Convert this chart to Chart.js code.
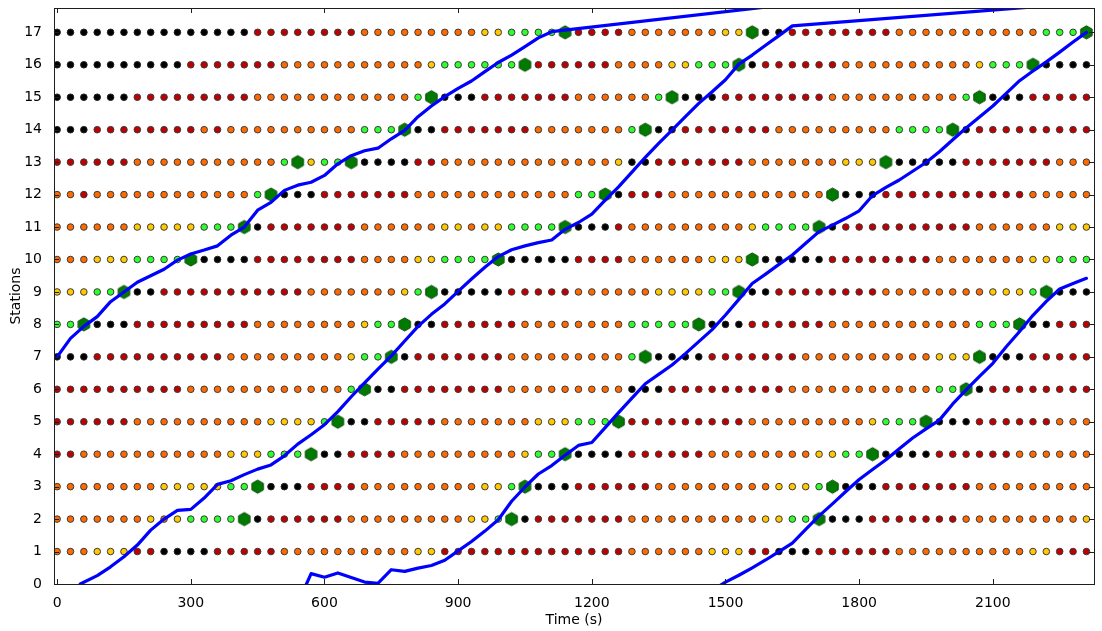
<!DOCTYPE html>
<html>
<head>
<meta charset="utf-8">
<script src="https://cdn.jsdelivr.net/npm/chart.js@4.4.1/dist/chart.umd.min.js"></script>
<style>
html,body{margin:0;padding:0;background:#ffffff;}
#wrap{width:1102px;height:631px;position:relative;}
canvas{display:block;}
</style>
</head>
<body>
<div id="wrap"><canvas id="c" width="1102" height="631"></canvas></div>
<script>
// ---------------- data ----------------
const sampleTimes = [0,30,60,90,120,150,180,210,240,270,300,330,360,390,420,450,480,510,540,570,
  600,630,660,690,720,750,780,810,840,870,900,930,960,990,1020,1050,1080,1110,1140,1170,
  1200,1230,1260,1290,1320,1350,1380,1410,1440,1470,1500,1530,1560,1590,1620,1650,1680,1710,1740,1770,
  1800,1830,1860,1890,1920,1950,1980,2010,2040,2070,2100,2130,2160,2190,2220,2250,2280,2310];

const stations = [1,2,3,4,5,6,7,8,9,10,11,12,13,14,15,16,17];

// state of each station at each sample time, run-length coded
// K black, R dark red, O orange, Y yellow, G light green, H dark-green hexagon
const stateRuns = [
  "O3 Y3 R2 K4 R5 O10 Y2 R14 O6 Y3 R2 K3 R6 O10 Y2 R3",                 // 1
  "O7 Y1 O1 Y1 G4 H1 K1 R6 O9 Y2 G1 H1 K1 R7 O10 Y2 G2 H1 K3 R7 O9 Y1",  // 2
  "O8 Y5 G2 H1 K3 R4 O9 Y2 G1 H1 K3 R6 O9 Y3 G1 H1 K3 R7 O9",            // 3
  "R2 O11 Y3 G3 H1 K2 R4 O9 Y1 G2 H1 K4 R6 O8 Y2 G2 H1 K4 R6 O6",        // 4
  "R6 O10 Y4 G1 H1 K2 R5 O7 Y3 G3 H1 R9 O9 Y1 G3 H1 K3 R6 O3",           // 5
  "R10 O12 G1 H1 K2 R8 O9 K3 R9 O11 G2 H1 K1 R8",                        // 6
  "K3 R10 O9 Y1 G2 H1 K1 R7 O9 G1 H1 K4 R7 O10 Y3 H1 K3 R5",             // 7
  "G2 H1 K3 R9 O8 Y1 G2 H1 K2 R6 O8 G5 H1 K3 R6 O11 G3 H1 K2 R3",        // 8
  "Y3 G2 H1 K2 R11 O7 Y1 G1 H1 K5 R5 O6 Y4 G2 H1 K2 R8 O8 Y3 G1 H1 K3",  // 9
  "O3 Y3 G4 H1 K4 R8 O4 Y2 G4 H1 K5 R4 O6 Y3 H1 K5 R8 O7 Y2 G3",        // 10
  "O6 Y5 G3 H1 K1 R7 O6 Y2 O1 Y2 G4 H1 K3 R1 O9 Y1 G4 H1 K1 R10 O6 Y3", // 11
  "O2 R1 O12 G1 H1 K3 R7 O12 G2 H1 K1 R3 O12 H1 K3 R11 O5",              // 12
  "R6 O11 G1 H1 Y1 G2 H1 K4 R2 O13 Y1 K2 R7 O7 Y3 H1 K5 R7 O3",          // 13
  "K3 R8 O1 R1 O10 G3 H1 K2 R7 O7 G1 H1 K2 R7 O9 G4 H1 K1 R9",           // 14
  "K6 R9 O12 G1 H1 K3 R7 O6 G1 H1 K3 R8 O10 G1 H1 K3 R5",                // 15
  "K10 R7 O11 Y1 G6 H1 R6 O4 Y2 G3 H1 K1 R6 O10 Y1 G3 H1 K4",            // 16
  "K15 R8 O9 Y2 G4 H1 R4 O7 Y2 H1 K2 R8 O11 G3 H1"                       // 17
];

// bus trajectories (time s, station position)
const trip1Time = [0,30,60,90,120,150,180,210,240,270,300,330,360,390,420,450,480,510,540,570,600,630,660,690,720,750,780,810,840,870,900,930,960,990,1020,1050,1080,1110,1730];
const trip1Pos  = [7.0,7.57,7.94,8.24,8.7,9.0,9.3,9.5,9.7,9.98,10.17,10.29,10.42,10.75,11.0,11.52,11.76,12.13,12.29,12.38,12.59,12.95,13.2,13.35,13.43,13.72,13.98,14.4,14.73,15.02,15.27,15.5,15.79,16.07,16.3,16.56,16.83,17.02,18.0];

const trip2Time = [52,90,120,150,180,210,240,270,300,330,360,390,420,450,480,510,540,570,600,630,660,690,720,750,780,810,840,870,900,930,960,990,1020,1050,1080,1110,1140,1170,1200,1230,1260,1290,1320,1350,1380,1410,1440,1470,1500,1530,1560,1590,1620,1650,2390];
const trip2Pos  = [0.0,0.26,0.53,0.84,1.2,1.66,2.0,2.27,2.3,2.65,3.07,3.18,3.37,3.54,3.67,3.95,4.31,4.6,4.91,5.31,5.77,6.2,6.62,7.03,7.49,7.94,8.31,8.63,9.02,9.4,9.76,10.09,10.3,10.42,10.52,10.6,10.93,11.14,11.4,11.83,12.24,12.69,13.15,13.58,13.99,14.4,14.81,15.17,15.54,16.02,16.3,16.6,16.9,17.2,18.0];

const trip3Time = [540,570,600,630,660,690,720,750,780,810,840,870,900,930,960,990,1020,1050,1080,1110,1140,1170,1200,1230,1260,1290,1320,1350,1380,1410,1440,1470,1500,1530,1560,1590,1620,1650,1680,1710,1740,1770,1800,1830,1860,1890,1920,1950,1980,2010,2040,2070,2100,2130,2160,2190,2220,2250,2280,2310];
const trip3Pos  = [-0.6,0.32,0.21,0.34,0.2,0.06,0.02,0.44,0.39,0.49,0.57,0.73,1.02,1.31,1.63,1.98,2.55,2.99,3.39,3.65,3.97,4.27,4.36,4.82,5.28,5.73,6.17,6.46,6.75,7.1,7.47,7.84,8.29,8.77,9.26,9.55,9.85,10.14,10.5,10.86,11.06,11.27,11.5,11.97,12.22,12.45,12.72,12.99,13.32,13.69,14.05,14.39,14.73,15.12,15.51,15.81,16.09,16.39,16.7,17.0];

const trip4Time = [1470,1500,1530,1560,1590,1620,1650,1680,1710,1740,1770,1800,1830,1860,1890,1920,1950,1980,2010,2040,2070,2100,2130,2160,2190,2220,2250,2280,2310];
const trip4Pos  = [-0.2,0.06,0.27,0.5,0.74,1.0,1.26,1.68,2.1,2.47,2.85,3.22,3.53,3.83,4.17,4.5,4.78,5.05,5.55,5.98,6.4,6.8,7.31,7.78,8.28,8.71,9.09,9.26,9.42];

const xTicks = [0,300,600,900,1200,1500,1800,2100];
const yTicks = [0,1,2,3,4,5,6,7,8,9,10,11,12,13,14,15,16,17];

// ---------------- styles ----------------
const stateStyle = {
  K: {fill:'#000000', edge:'#222222'},
  R: {fill:'#c00000', edge:'#3a3a3a'},
  O: {fill:'#ff6a00', edge:'#3a3a3a'},
  Y: {fill:'#ffc800', edge:'#3a3a3a'},
  G: {fill:'#2cff2c', edge:'#3a3a3a'},
  H: {fill:'#007a00', edge:'#0b4a0b'}
};
const FONT = "'DejaVu Sans', 'Liberation Sans', sans-serif";

function decodeRuns(str){
  const out = [];
  str.trim().split(/\s+/).forEach(tok => {
    const code = tok[0], n = parseInt(tok.slice(1), 10);
    for (let k = 0; k < n; k++) out.push(code);
  });
  return out;
}

function hexagonImage(r, fill, stroke){
  const size = Math.ceil(2*r + 3);
  const c = document.createElement('canvas');
  c.width = size; c.height = size;
  const g = c.getContext('2d');
  g.beginPath();
  for (let k = 0; k < 6; k++){
    const a = -Math.PI/2 + k*Math.PI/3;
    const px = size/2 + r*Math.cos(a), py = size/2 + r*Math.sin(a);
    if (k === 0) g.moveTo(px, py); else g.lineTo(px, py);
  }
  g.closePath();
  g.fillStyle = fill; g.fill();
  g.lineWidth = 1; g.strokeStyle = stroke; g.stroke();
  return c;
}

// build point groups
const groups = {K:[],R:[],O:[],Y:[],G:[],H:[]};
stations.forEach((st, si) => {
  const states = decodeRuns(stateRuns[si]);
  states.forEach((code, ti) => {
    if (ti < sampleTimes.length) groups[code].push({x: sampleTimes[ti], y: st});
  });
});

const datasets = [];
[[trip1Time,trip1Pos],[trip2Time,trip2Pos],[trip3Time,trip3Pos],[trip4Time,trip4Pos]].forEach(([tt,pp]) => {
  datasets.push({
    type:'line',
    data: tt.map((t,i) => ({x:t, y:pp[i]})),
    borderColor:'#0000ff', borderWidth:3.2, pointRadius:0, fill:false, tension:0,
    showLine:true, clip:0, order:0, borderJoinStyle:'round', borderCapStyle:'round'
  });
});
const hexImg = hexagonImage(6.6, stateStyle.H.fill, stateStyle.H.edge);
['K','R','O','Y','G','H'].forEach(code => {
  const s = stateStyle[code];
  datasets.push({
    type:'scatter',
    data: groups[code],
    pointStyle: code === 'H' ? hexImg : 'circle',
    pointRadius: code === 'H' ? 7 : 3.3,
    backgroundColor: s.fill,
    borderColor: s.edge,
    borderWidth: 1,
    showLine:false,
    clip:0,
    order: code === 'H' ? 1 : 2
  });
});

const framePlugin = {
  id:'frame',
  afterDatasetsDraw(chart){
    const {ctx, chartArea:{left,right,top,bottom}, scales:{x,y}} = chart;
    ctx.save();
    ctx.strokeStyle = '#1e1e1e';
    ctx.lineWidth = 1;
    ctx.beginPath();
    xTicks.forEach(v => {
      const p = Math.round(x.getPixelForValue(v)) + 0.5;
      ctx.moveTo(p, bottom); ctx.lineTo(p, bottom - 5);
      ctx.moveTo(p, top); ctx.lineTo(p, top + 5);
    });
    yTicks.forEach(v => {
      const p = Math.round(y.getPixelForValue(v)) + 0.5;
      ctx.moveTo(left, p); ctx.lineTo(left + 5, p);
      ctx.moveTo(right, p); ctx.lineTo(right - 5, p);
    });
    ctx.stroke();
    ctx.strokeRect(left + 0.5, top + 0.5, right - left, bottom - top);
    ctx.restore();
  }
};

Chart.defaults.font.family = FONT;
Chart.defaults.color = '#000000';

new Chart(document.getElementById('c'), {
  type:'scatter',
  data:{datasets},
  options:{
    responsive:false,
    animation:false,
    devicePixelRatio:1,
    events:[],
    layout:{padding:{left:0, right:1, top:4, bottom:0}},
    plugins:{legend:{display:false}, tooltip:{enabled:false}},
    scales:{
      x:{
        type:'linear', min:-7, max:2327,
        afterBuildTicks: s => { s.ticks = xTicks.map(v => ({value:v})); },
        afterFit: s => { s.height = 47; s.paddingLeft = 0; s.paddingRight = 0; },
        grid:{display:false}, border:{display:false},
        ticks:{font:{size:14, family:FONT}, color:'#000', padding:3, maxRotation:0, autoSkip:false, callback: v => String(v)},
        title:{display:true, text:'Time (s)', font:{size:14, family:FONT}, color:'#000', padding:{top:0, bottom:2.5}}
      },
      y:{
        type:'linear', min:0, max:17.75,
        afterBuildTicks: s => { s.ticks = yTicks.map(v => ({value:v})); },
        afterFit: s => { s.width = 54; s.paddingTop = 0; s.paddingBottom = 0; },
        grid:{display:false}, border:{display:false},
        ticks:{font:{size:14, family:FONT}, color:'#000', padding:4, autoSkip:false, callback: v => String(v)},
        title:{display:true, text:'Stations', font:{size:14, family:FONT}, color:'#000', padding:{top:8, bottom:0}}
      }
    }
  },
  plugins:[framePlugin]
});
</script>
</body>
</html>
